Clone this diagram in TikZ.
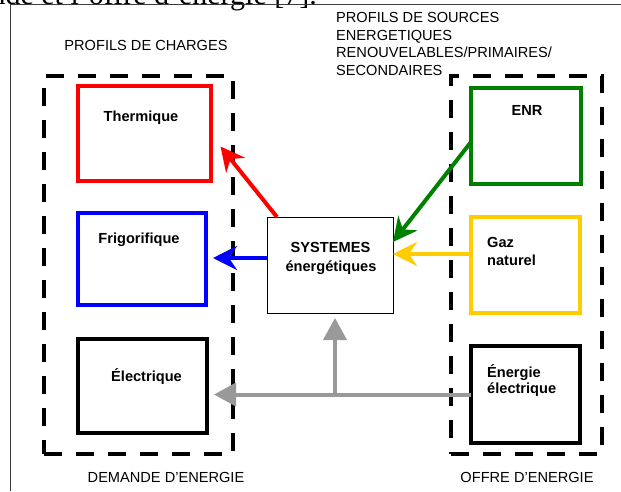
\documentclass[tikz,border=0pt]{standalone}
\usepackage{fontspec}
\setmainfont{Liberation Sans}
\newfontfamily\captionserif{Liberation Serif}
\usetikzlibrary{arrows.meta}
\definecolor{cred}{RGB}{255,0,0}
\definecolor{cblue}{RGB}{0,0,255}
\definecolor{cgreen}{RGB}{0,128,0}
\definecolor{cyellow}{RGB}{255,204,0}
\definecolor{cgray}{RGB}{153,153,153}
\definecolor{cframe}{RGB}{60,60,60}
\begin{document}
\begin{tikzpicture}[x=1pt,y=-1pt,
  boxed/.style={draw, line width=4pt, inner sep=0pt, outer sep=0pt},
  dashbox/.style={draw, line width=4pt, dash pattern=on 18pt off 14pt, inner sep=0pt, outer sep=0pt},
  sysbox/.style={draw, line width=0.8pt, inner sep=0pt, outer sep=0pt},
  lab/.style={font=\fontsize{14.6}{17}\selectfont\bfseries, inner sep=0pt},
  captext/.style={font=\fontsize{14.6}{17}\selectfont, inner sep=0pt},
  flow/.style={line width=4pt, -{Stealth[length=24pt, width=24pt, inset=8pt]}},
  grayflow/.style={line width=4pt, cgray, -{Triangle[length=22pt, width=23pt]}}
]
\clip (0,0) rectangle (621,491);
\fill[white] (0,0) rectangle (621,491);

% frame and clipped caption
\node[font=\captionserif\fontsize{30}{34}\selectfont, inner sep=0pt, anchor=base east] (caption) at (317,4) {demande et l’offre d’énergie [7].};
\draw[cframe, line width=0.9pt] (10,491) -- (10,4.3) -- (621,4.3);

% dashed groups
\node[dashbox, minimum width=189, minimum height=378] (demand) at (138.5,265) {};
\node[dashbox, minimum width=151, minimum height=378] (offer) at (526.5,265) {};

% load boxes
\node[boxed, draw=cred, minimum width=133, minimum height=95] (therm) at (144.5,133.5) {};
\node[boxed, draw=cblue, minimum width=128, minimum height=92] (frig) at (142,259) {};
\node[boxed, draw=black, minimum width=129, minimum height=94] (elec) at (142.5,386) {};

% source boxes
\node[boxed, draw=cgreen, minimum width=110, minimum height=96] (enr) at (526,136) {};
\node[boxed, draw=cyellow, minimum width=109, minimum height=96] (gaz) at (525.5,265) {};
\node[boxed, draw=black, minimum width=109, minimum height=97] (ener) at (525.5,394.5) {};

% system box
\node[sysbox, minimum width=126, minimum height=96] (sys) at (330,265) {};

% labels
\node[lab, anchor=base] (tTherm) at (141,121) {Thermique};
\node[lab, anchor=base] (tFrig) at (139,243) {Frigorifique};
\node[lab, anchor=base] (tElec) at (146.5,381) {Électrique};
\node[lab, anchor=base] (tSys1) at (330.5,252) {SYSTEMES};
\node[lab, anchor=base] (tSys2) at (331,271) {énergétiques};
\node[lab, anchor=base] (tEnr) at (527,115) {ENR};
\node[lab, anchor=base west] (tGaz1) at (487,247) {Gaz};
\node[lab, anchor=base west] (tGaz2) at (487,265) {naturel};
\node[lab, anchor=base west] (tEn1) at (487,377) {Énergie};
\node[lab, anchor=base west] (tEn2) at (487,393) {électrique};

% captions
\node[captext, anchor=base] (cCharges) at (146,50) {PROFILS DE CHARGES};
\node[captext, anchor=base west] (cSrc1) at (336,22) {PROFILS DE SOURCES};
\node[captext, anchor=base west] (cSrc2) at (336,40) {ENERGETIQUES};
\node[captext, anchor=base west] (cSrc3) at (336,57) {RENOUVELABLES/PRIMAIRES/};
\node[captext, anchor=base west] (cSrc4) at (336,75) {SECONDAIRES};
\node[captext, anchor=base] (cDem) at (166,482) {DEMANDE D’ENERGIE};
\node[captext, anchor=base] (cOff) at (527,482) {OFFRE D’ENERGIE};

% connector end points
\coordinate (tipT) at (220.5,146.5);
\coordinate (tipF) at (213,258);
\coordinate (tipE) at (214,394.5);
\coordinate (junc) at (335,394.5);
\coordinate (tipS) at (335,318);

% connectors
\draw[flow, cred] ([xshift=10pt]sys.north west) -- (tipT);
\draw[flow, cblue] (sys.west |- tipF) -- (tipF);
\draw[flow, cgreen] ([yshift=-6pt]enr.west) -- ([yshift=23pt]sys.east);
\draw[flow, cyellow] ([yshift=11pt]gaz.west) -- ([yshift=11pt]sys.east);
\draw[grayflow] (ener.west) -- (tipE);
\draw[grayflow] (junc) -- (tipS);
\end{tikzpicture}
\end{document}
